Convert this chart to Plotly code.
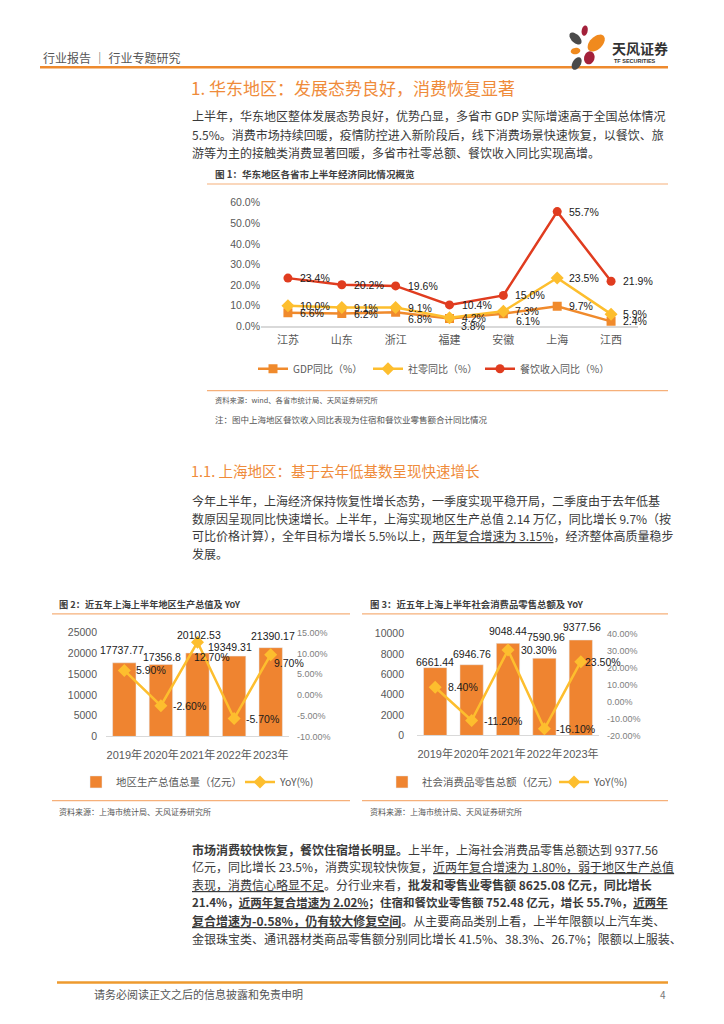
import math
import plotly.graph_objects as go

W, H = 724, 1024
OFF = 8  # the page body adds an 8px margin around the figure


def px(x):
    return (x - OFF) / W


def py(y):
    return 1 - (y - OFF) / H


# ---------------- data ----------------
provinces = ["江苏", "山东", "浙江", "福建", "安徽", "上海", "江西"]
gdp_yoy = [6.6, 6.2, 6.8, 3.8, 6.1, 9.7, 2.4]
retail_yoy = [10.0, 9.1, 9.1, 4.2, 7.3, 23.5, 5.9]
catering_yoy = [23.4, 20.2, 19.6, 10.4, 15.0, 55.7, 21.9]
c1_ticks = [0, 10, 20, 30, 40, 50, 60]

years = ["2019年", "2020年", "2021年", "2022年", "2023年"]
sh_gdp = [17737.77, 17356.8, 20102.53, 19349.31, 21390.17]
sh_gdp_yoy = [5.9, -2.6, 12.7, -5.7, 9.7]
sh_retail = [6661.44, 6946.76, 9048.44, 7590.96, 9377.56]
sh_retail_yoy = [8.4, -11.2, 30.3, -16.1, 23.5]

c2_left_ticks = [0, 5000, 10000, 15000, 20000, 25000]
c2_right_ticks = [-10, -5, 0, 5, 10, 15]
c3_left_ticks = [0, 2000, 4000, 6000, 8000, 10000]
c3_right_ticks = [-20, -10, 0, 10, 20, 30, 40]

# ---------------- styles ----------------
C_GDP = "#F08A2C"
C_RETAIL = "#FDBE2E"
C_CATER = "#E03C1F"
C_BAR = "#EF8430"
C_TITLE = "#EF8B3A"
C_TEXT = "#3A3A3A"
C_AXIS = "#595959"
LAT = "Liberation Sans, Arial, Noto Sans CJK SC"
CJK = "Noto Sans CJK SC, Liberation Sans"

fig = go.Figure()

# ---------- chart 1 ----------
fig.add_trace(go.Scatter(x=provinces, y=gdp_yoy, name="GDP同比（%）", mode="lines+markers",
                         line=dict(color=C_GDP, width=2.5),
                         marker=dict(symbol="square", size=9, color=C_GDP),
                         xaxis="x", yaxis="y", legend="legend"))
fig.add_trace(go.Scatter(x=provinces, y=retail_yoy, name="社零同比（%）", mode="lines+markers",
                         line=dict(color=C_RETAIL, width=2.5),
                         marker=dict(symbol="diamond", size=10, color=C_RETAIL),
                         xaxis="x", yaxis="y", legend="legend4"))
fig.add_trace(go.Scatter(x=provinces, y=catering_yoy, name="餐饮收入同比（%）", mode="lines+markers",
                         line=dict(color=C_CATER, width=2.5),
                         marker=dict(symbol="circle", size=9, color=C_CATER),
                         xaxis="x", yaxis="y", legend="legend5"))

# ---------- chart 2 ----------
fig.add_trace(go.Bar(x=years, y=sh_gdp, name="地区生产总值总量（亿元）", marker_color=C_BAR,
                     width=0.64, xaxis="x2", yaxis="y2", legend="legend2"))
fig.add_trace(go.Scatter(x=years, y=sh_gdp_yoy, name="YoY(%)", mode="lines+markers",
                         line=dict(color=C_RETAIL, width=2.5),
                         marker=dict(symbol="diamond", size=10, color=C_RETAIL),
                         xaxis="x2", yaxis="y3", legend="legend6"))

# ---------- chart 3 ----------
fig.add_trace(go.Bar(x=years, y=sh_retail, name="社会消费品零售总额（亿元）", marker_color=C_BAR,
                     width=0.64, xaxis="x3", yaxis="y4", legend="legend3"))
fig.add_trace(go.Scatter(x=years, y=sh_retail_yoy, name="YoY(%)", mode="lines+markers",
                         line=dict(color=C_RETAIL, width=2.5),
                         marker=dict(symbol="diamond", size=10, color=C_RETAIL),
                         xaxis="x3", yaxis="y5", legend="legend7"))

ann = []


def label(x, y, text, xr, yr, xanchor="left", xshift=0, yshift=0, size=10.5, color="#1A1A1A"):
    ann.append(dict(x=x, y=y, xref=xr, yref=yr, text=text, showarrow=False,
                    xanchor=xanchor, yanchor="middle", xshift=xshift, yshift=yshift,
                    font=dict(family=LAT, size=size, color=color)))


# chart 1 data labels
gdp_dx = [10, 10, 10, 9, 11, 10, 10]
gdp_dy = [0, 0, -7, -8, -7, 0, 0]
for i, p in enumerate(provinces):
    label(p, gdp_yoy[i], f"{gdp_yoy[i]:.1f}%", "x", "y", xshift=gdp_dx[i], yshift=gdp_dy[i])
    label(p, retail_yoy[i], f"{retail_yoy[i]:.1f}%", "x", "y", xshift=10)
    label(p, catering_yoy[i], f"{catering_yoy[i]:.1f}%", "x", "y", xshift=10)

# chart 2 labels
c2_bar_dx = [-2, 1, 1.5, -4, 2.5]
c2_bar_dy = [13, 7, 18, 9, 12]
c2_yoy_dx = [10, 10, -6, 10, 1]
c2_yoy_dy = [0, 0, -15, 0, -8]
for i, yv in enumerate(years):
    label(yv, sh_gdp[i], str(sh_gdp[i]), "x2", "y2", xanchor="center",
          xshift=c2_bar_dx[i], yshift=c2_bar_dy[i])
    label(yv, sh_gdp_yoy[i], f"{sh_gdp_yoy[i]:.2f}%", "x2", "y3",
          xshift=c2_yoy_dx[i], yshift=c2_yoy_dy[i])

# chart 3 labels
c3_bar_dx = [0, 0, 0, 2, 1]
c3_bar_dy = [6, 11, 12, 21, 13]
c3_yoy_dx = [11, 10, 11, 10, 2]
for i, yv in enumerate(years):
    label(yv, sh_retail[i], str(sh_retail[i]), "x3", "y4", xanchor="center",
          xshift=c3_bar_dx[i], yshift=c3_bar_dy[i])
    label(yv, sh_retail_yoy[i], f"{sh_retail_yoy[i]:.2f}%", "x3", "y5",
          xshift=c3_yoy_dx[i])


def text(x, y, t, size=12, color=C_TEXT, family=CJK, xanchor="left"):
    ann.append(dict(x=px(x), y=py(y), xref="paper", yref="paper", text=t, showarrow=False,
                    xanchor=xanchor, yanchor="middle", align="left",
                    font=dict(family=family, size=size, color=color)))


# header
text(41, 52, "行业报告 ｜ 行业专题研究", size=12, color="#555555")
text(610, 42, "<b>天风证券</b>", size=14, color="#333333")
text(612, 56, "<b>TF SECURITIES</b>", size=5.5, color="#333333", family=LAT)

# section 1
text(189, 82, "1. 华东地区：发展态势良好，消费恢复显著", size=17, color=C_TITLE)
p1 = [
    "上半年，华东地区整体发展态势良好，优势凸显，多省市 GDP 实际增速高于全国总体情况",
    "5.5%。消费市场持续回暖，疫情防控进入新阶段后，线下消费场景快速恢复，以餐饮、旅",
    "游等为主的接触类消费显著回暖，多省市社零总额、餐饮收入同比实现高增。",
]
for k, line in enumerate(p1):
    text(190, 111 + 18.5 * k, line, size=12)

text(213, 170, "<b>图 1：华东地区各省市上半年经济同比情况概览</b>", size=9.6, color="#404040")
text(213, 399, "资料来源：wind、各省市统计局、天风证券研究所", size=7.3, color="#555555")
text(213, 418, "注：图中上海地区餐饮收入同比表现为住宿和餐饮业零售额合计同比情况", size=8.5, color="#555555")

# section 1.1
text(189, 470, "1.1. 上海地区：基于去年低基数呈现快速增长", size=14.5, color=C_TITLE)
p2 = [
    "今年上半年，上海经济保持恢复性增长态势，一季度实现平稳开局，二季度由于去年低基",
    "数原因呈现同比快速增长。上半年，上海实现地区生产总值 2.14 万亿，同比增长 9.7%（按",
    "可比价格计算），全年目标为增长 5.5%以上，<u>两年复合增速为 3.15%</u>，经济整体高质量稳步",
    "发展。",
]
for k, line in enumerate(p2):
    text(190, 500 + 18 * k, line, size=12)

text(57, 605, "<b>图 2：近五年上海上半年地区生产总值及 YoY</b>", size=9.2, color="#404040")
text(57, 815, "资料来源：上海市统计局、天风证券研究所", size=8, color="#555555")
text(368, 605, "<b>图 3：近五年上海上半年社会消费品零售总额及 YoY</b>", size=9.4, color="#404040")
text(368, 815, "资料来源：上海市统计局、天风证券研究所", size=8, color="#555555")

p3 = [
    "<b>市场消费较快恢复，餐饮住宿增长明显。</b>上半年，上海社会消费品零售总额达到 9377.56",
    "亿元，同比增长 23.5%，消费实现较快恢复，<u>近两年复合增速为 1.80%，弱于地区生产总值</u>",
    "<u>表现，消费信心略显不足</u>。分行业来看，<b>批发和零售业零售额 8625.08 亿元，同比增长</b>",
    "<b>21.4%，<u>近两年复合增速为 2.02%</u>；住宿和餐饮业零售额 752.48 亿元，增长 55.7%，<u>近两年</u></b>",
    "<b><u>复合增速为-0.58%，仍有较大修复空间</u></b>。从主要商品类别上看，上半年限额以上汽车类、",
    "金银珠宝类、通讯器材类商品零售额分别同比增长 41.5%、38.3%、26.7%；限额以上服装、",
]
p3_sizes = [12, 12, 12, 11.5, 12, 12]
for k, line in enumerate(p3):
    text(190, 853 + 18 * k, line, size=p3_sizes[k])

text(92, 1000, "请务必阅读正文之后的信息披露和免责申明", size=11, color="#555555")
text(668, 1000, "4", size=10, color="#777777", xanchor="right")

# ---------------- shapes ----------------
shapes = []


def hline(x0, x1, y, color, width):
    shapes.append(dict(type="line", xref="paper", yref="paper", x0=px(x0), x1=px(x1),
                       y0=py(y), y1=py(y), line=dict(color=color, width=width)))


hline(40, 668, 62, "#EE8A2E", 2.5)
hline(207, 668, 180, "#F6B07A", 1.2)
hline(207, 668, 389, "#F6B07A", 1.2)
hline(52, 350, 615, "#F6B07A", 1.2)
hline(52, 350, 804, "#F6B07A", 1.2)
hline(362, 668, 615, "#F6B07A", 1.2)
hline(362, 668, 804, "#F6B07A", 1.2)
hline(57, 668, 988, "#EE9A2E", 2.5)


def petal(cx, cy, rx, ry, ang, color, s=1.15, ox=587, oy=42):
    cx = ox + (cx - ox) * s
    cy = oy + (cy - oy) * s
    rx *= s
    ry *= s
    a = math.radians(ang)
    pts = []
    for k in range(28):
        t = 2 * math.pi * k / 28
        x = rx * math.cos(t)
        y = ry * math.sin(t)
        xr = cx + x * math.cos(a) - y * math.sin(a)
        yr = cy + x * math.sin(a) + y * math.cos(a)
        pts.append(f"{px(xr):.5f},{py(yr):.5f}")
    path = "M" + " L".join(pts) + " Z"
    shapes.append(dict(type="path", xref="paper", yref="paper", path=path,
                       fillcolor=color, line=dict(width=0)))


petal(577, 34, 6.5, 3.6, 45, "#4A4A4A")
petal(585, 27, 2.6, 4.6, 10, "#A3203A")
petal(595, 38, 9, 5.5, -45, "#F08A1E")
petal(577, 45, 4.2, 2.8, -10, "#F08A1E")
petal(589, 51, 4.5, 5.8, 15, "#A3203A")
petal(578, 56, 3.6, 6, 30, "#4A4A4A")

# ---------------- layout ----------------
axis_common = dict(showgrid=False, zeroline=False, fixedrange=True, ticks="")


def legend_at(x, y, size):
    return dict(x=px(x), y=py(y), xanchor="left", yanchor="middle", orientation="h",
                font=dict(family=CJK, size=size, color=C_AXIS), bgcolor="rgba(0,0,0,0)",
                itemwidth=30)


fig.update_layout(
    width=W, height=H, autosize=False,
    margin=dict(l=0, r=0, t=0, b=0),
    paper_bgcolor="white", plot_bgcolor="rgba(0,0,0,0)",
    showlegend=True,
    font=dict(family=LAT, color=C_AXIS),
    xaxis=dict(domain=[px(261), px(638)], anchor="y", type="category",
               range=[-0.5, 6.5], showline=True, linecolor="#D9D9D9", linewidth=1.5,
               tickangle=0, ticklabelstandoff=3,
               tickfont=dict(family=CJK, size=11, color=C_AXIS), **axis_common),
    yaxis=dict(domain=[py(324), py(199)], anchor="x", range=[0, 60],
               tickvals=c1_ticks, ticktext=[f"{v:.1f}%" for v in c1_ticks],
               tickfont=dict(size=10.5, color=C_AXIS), **axis_common),
    xaxis2=dict(domain=[px(106), px(289)], anchor="y2", type="category",
                range=[-0.5, 4.5], showline=True, linecolor="#D9D9D9", linewidth=1,
                tickangle=0, ticklabelstandoff=8,
                tickfont=dict(family=LAT, size=11, color=C_AXIS), **axis_common),
    yaxis2=dict(domain=[py(739), py(634)], anchor="x2", range=[0, 25000],
                tickvals=c2_left_ticks, ticktext=[str(v) for v in c2_left_ticks],
                ticklabelstandoff=8,
                tickfont=dict(size=10.5, color=C_AXIS), **axis_common),
    yaxis3=dict(overlaying="y2", anchor="x2", side="right", range=[-10, 15],
                tickvals=c2_right_ticks, ticktext=[f"{v:.2f}%" for v in c2_right_ticks],
                ticklabelstandoff=7,
                tickfont=dict(size=9, color="#808080"), **axis_common),
    xaxis3=dict(domain=[px(417), px(599)], anchor="y4", type="category",
                range=[-0.5, 4.5], showline=True, linecolor="#D9D9D9", linewidth=1,
                tickangle=0, ticklabelstandoff=8,
                tickfont=dict(family=LAT, size=11, color=C_AXIS), **axis_common),
    yaxis4=dict(domain=[py(738), py(635)], anchor="x3", range=[0, 10000],
                tickvals=c3_left_ticks, ticktext=[str(v) for v in c3_left_ticks],
                ticklabelstandoff=12,
                tickfont=dict(size=10.5, color=C_AXIS), **axis_common),
    yaxis5=dict(overlaying="y4", anchor="x3", side="right", range=[-20, 40],
                tickvals=c3_right_ticks, ticktext=[f"{v:.2f}%" for v in c3_right_ticks],
                ticklabelstandoff=7,
                tickfont=dict(size=9, color="#808080"), **axis_common),
    legend=legend_at(253, 367, 10),
    legend4=legend_at(368, 367, 10),
    legend5=legend_at(480, 367, 10),
    legend2=legend_at(76, 785, 10.5),
    legend6=legend_at(240, 785, 10.5),
    legend3=legend_at(382, 785, 10.5),
    legend7=legend_at(554, 785, 10.5),
    annotations=ann,
    shapes=shapes,
    hovermode=False,
)

fig.write_html("out.html")
